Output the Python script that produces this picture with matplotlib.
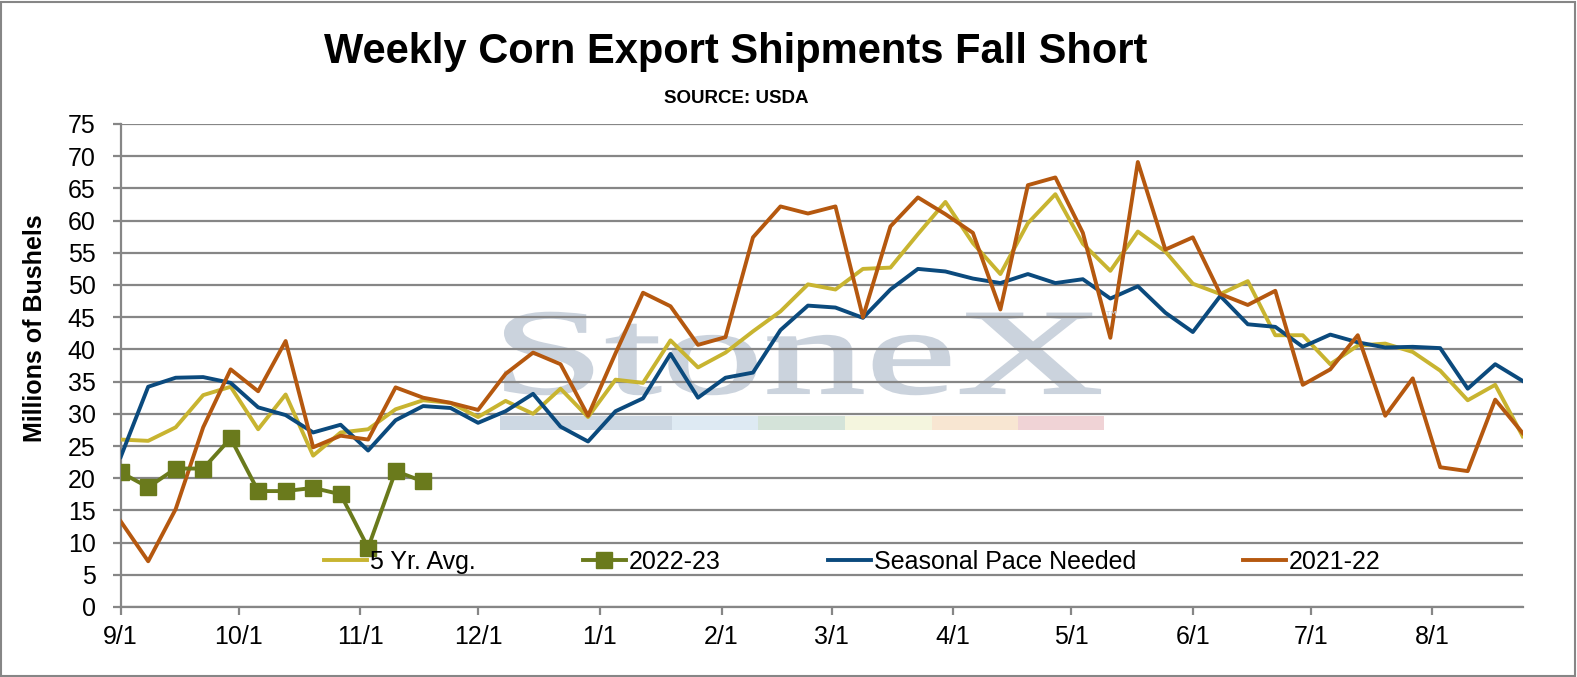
import datetime as dt
import numpy as np
import matplotlib
matplotlib.use("Agg")
import matplotlib.pyplot as plt
import matplotlib.dates as mdates
from matplotlib.textpath import TextPath
from matplotlib.patches import PathPatch, Rectangle
from matplotlib.font_manager import FontProperties
from matplotlib.transforms import Affine2D

plt.rcParams['font.family'] = ['Liberation Sans', 'DejaVu Sans']

# weekly values, million bushels, weeks starting 9/1
avg_5yr = [26.0, 25.8, 27.9, 32.9, 34.2, 27.6, 33.0, 23.5, 27.1, 27.6,
           30.7, 32.1, 31.7, 29.5, 32.0, 30.0, 33.9, 29.5, 35.3, 34.8,
           41.4, 37.2, 39.5, 42.8, 45.9, 50.1, 49.3, 52.5, 52.7, 57.9,
           62.9, 56.5, 51.7, 59.6, 64.1, 56.4, 52.2, 58.3, 55.2, 50.2,
           48.6, 50.6, 42.2, 42.2, 37.7, 40.6, 40.9, 39.6, 36.7, 32.1,
           34.5, 26.5]
season_pace = [23.3, 34.2, 35.6, 35.7, 34.8, 31.0, 29.8, 27.1, 28.3, 24.3,
               29.0, 31.2, 30.9, 28.6, 30.4, 33.1, 28.0, 25.7, 30.4, 32.4,
               39.3, 32.5, 35.6, 36.4, 43.0, 46.8, 46.5, 44.9, 49.3, 52.5,
               52.1, 51.0, 50.3, 51.7, 50.3, 50.9, 47.9, 49.8, 45.7, 42.7,
               48.3, 43.9, 43.5, 40.4, 42.3, 41.1, 40.3, 40.4, 40.2, 33.9,
               37.7, 35.1]
y2021_22 = [13.3, 7.1, 15.2, 27.9, 36.9, 33.5, 41.3, 24.8, 26.6, 26.0,
            34.1, 32.5, 31.7, 30.6, 36.2, 39.5, 37.7, 29.7, 39.4, 48.8,
            46.7, 40.7, 41.9, 57.4, 62.2, 61.1, 62.2, 45.0, 59.1, 63.6,
            61.0, 58.1, 46.2, 65.5, 66.7, 58.1, 41.8, 69.1, 55.5, 57.4,
            48.6, 46.9, 49.1, 34.5, 36.9, 42.2, 29.7, 35.5, 21.7, 21.1,
            32.2, 27.0]
y2022_23 = [20.9, 18.6, 21.5, 21.5, 26.2, 18.0, 18.0, 18.5, 17.5, 9.2,
            21.1, 19.5]

start = dt.date(2022, 9, 1)
weeks = [start + dt.timedelta(days=7 * i) for i in range(len(avg_5yr))]
weeks_cur = weeks[:len(y2022_23)]

W, H = 1577, 677
fig = plt.figure(figsize=(W / 100, H / 100), dpi=100)
ax = fig.add_axes([120.7 / W, 1 - 607 / H, 1402 / W, 483 / H])

# StoneX watermark behind the lines
wm_color = '#cbd3dd'
tp = TextPath((0, 0), "StoneX", size=1, prop=FontProperties(family='Liberation Serif'))
ext = tp.get_extents()
sx = (1100 - 505) / ext.width
sy = 80 / 0.66
tr = Affine2D().translate(-ext.x0, 0).scale(sx / W, sy / H).translate(505 / W, (H - 393) / H)
ax.add_patch(PathPatch(tp, transform=tr + fig.transFigure, facecolor=wm_color,
                       edgecolor=wm_color, lw=1.5, zorder=1))
fig.text(1104 / W, 1 - 322 / H, "\u2122", fontsize=11, color=wm_color, family='DejaVu Sans')
bar_edges = [500, 672, 758, 845, 932, 1018, 1104]
bar_colors = ['#cdd8e3', '#deeaf3', '#d4e3d9', '#f4f5de', '#f8e6d2', '#f0d3d6']
for i in range(len(bar_colors)):
    ax.add_patch(Rectangle((bar_edges[i] / W, 1 - 430 / H), (bar_edges[i + 1] - bar_edges[i]) / W, 14 / H,
                           transform=fig.transFigure, color=bar_colors[i], lw=0, zorder=1))

ax.plot(weeks, avg_5yr, color='#c8b430', lw=2.8, label='5 Yr. Avg.', zorder=3)
ax.plot(weeks_cur, y2022_23, color='#6a7a1c', lw=2.8, marker='s', markersize=11,
        label='2022-23', zorder=4)
ax.plot(weeks, season_pace, color='#0b4a7d', lw=2.8, label='Seasonal Pace Needed', zorder=3)
ax.plot(weeks, y2021_22, color='#b5580f', lw=2.8, label='2021-22', zorder=3)

ax.set_ylim(0, 75)
ax.set_yticks(np.arange(0, 76, 5))
ax.set_xlim(weeks[0], weeks[-1])
ax.xaxis.set_major_locator(mdates.MonthLocator(bymonthday=1))
ax.xaxis.set_major_formatter(plt.FuncFormatter(
    lambda v, p: f"{mdates.num2date(v).month}/{mdates.num2date(v).day}"))
ax.grid(axis='y', color='#868686', lw=1.6)
ax.set_axisbelow('line')
for s in ['top', 'right']:
    ax.spines[s].set_visible(False)
for s in ['left', 'bottom']:
    ax.spines[s].set_color('#868686')
    ax.spines[s].set_linewidth(1.6)
ax.tick_params(axis='both', colors='#868686', width=1.6, length=6, labelsize=18, labelcolor='black')
ax.tick_params(axis='x', pad=7)
ax.tick_params(axis='y', pad=12)
ax.set_ylabel('Millions of Bushels', fontsize=18, fontweight='bold')
ax.yaxis.set_label_coords((47 - 120.7) / 1402, (607 - 328) / 483)

ax.legend(loc='center left', bbox_to_anchor=((324 - 120.7) / 1402, 7.0 / 75), ncol=4,
          frameon=False, fontsize=18, handlelength=1.72, handletextpad=0.12,
          columnspacing=4.28, borderaxespad=0, borderpad=0)

fig.text(736 / W, 1 - 63 / H, 'Weekly Corn Export Shipments Fall Short', ha='center',
         va='baseline', fontsize=30, fontweight='bold')
fig.text(736 / W, 1 - 103 / H, 'SOURCE: USDA', ha='center', va='baseline',
         fontsize=13.5, fontweight='bold')

fig.patches.append(Rectangle((1 / W, 1 / H), (W - 3) / W, (H - 3) / H, transform=fig.transFigure,
                             fill=False, edgecolor='#868686', lw=1.5))

fig.savefig('out.png', dpi=100)
